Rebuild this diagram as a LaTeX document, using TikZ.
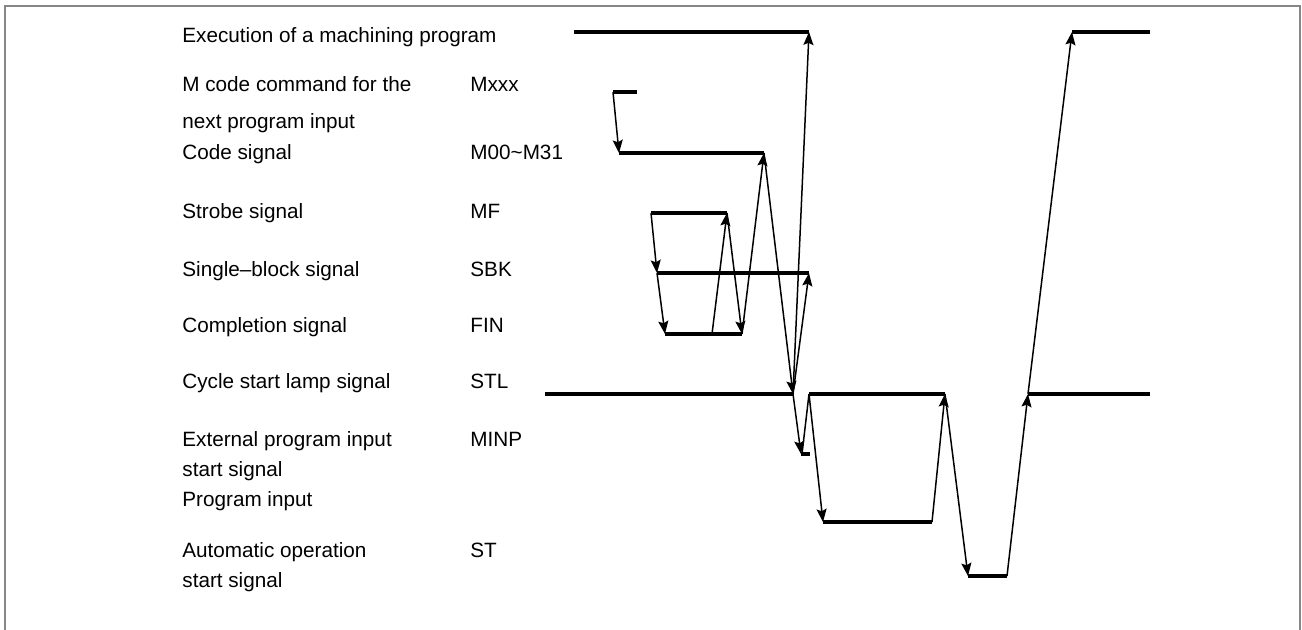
\documentclass[tikz,border=0pt]{standalone}
\usepackage{fontspec}
\setmainfont{Liberation Sans}
\usetikzlibrary{arrows.meta}
\begin{document}
\begin{tikzpicture}[x=0.5pt,y=-0.5pt,
  sig/.style={line width=1.6pt},
  cause/.style={line width=0.75pt,-{Stealth[length=6.5pt,width=5pt,inset=1.1pt]}},
  link/.style={line width=0.75pt},
  lbl/.style={anchor=base west,inner sep=0pt,align=left,font=\fontsize{10.35}{15}\selectfont},
  frameline/.style={line width=1pt,draw=black!47}]
\useasboundingbox (0,0) rectangle (1302,630);
\draw[frameline] (4.5,630) -- (4.5,6) -- (1300,6) -- (1300,630);

% labels (multi-line nodes are placed by the baseline of their last line)
\node[lbl] (Lexec) at (182,42.7) {Execution of a machining program};
\node[lbl] (Lmcode) at (182,128.3) {M code command for the\\[3.3pt]next program input};
\node[lbl] (Lcode) at (182,159.3) {Code signal};
\node[lbl] (Lmf) at (182,218.3) {Strobe signal};
\node[lbl] (Lsbk) at (182,276.7) {Single–block signal};
\node[lbl] (Lfin) at (182,332.7) {Completion signal};
\node[lbl] (Lstl) at (182,389) {Cycle start lamp signal};
\node[lbl] (Lminp) at (182,507) {External program input\\start signal\\Program input};
\node[lbl] (Lst) at (182,587.3) {Automatic operation\\start signal};

\node[lbl] (Smxxx) at (470,91.7) {Mxxx};
\node[lbl] (Scode) at (470,159.3) {M00\textasciitilde M31};
\node[lbl] (Smf) at (470,218.3) {MF};
\node[lbl] (Ssbk) at (470,276.7) {SBK};
\node[lbl] (Sfin) at (470,332.7) {FIN};
\node[lbl] (Sstl) at (470,389) {STL};
\node[lbl] (Sminp) at (470,446.7) {MINP};
\node[lbl] (Sst) at (470,557.3) {ST};

% waveform points
\coordinate (e1) at (574,32);  \coordinate (e2) at (809,32);
\coordinate (e3) at (1072,32); \coordinate (e4) at (1150,32);
\coordinate (m1) at (613,92);  \coordinate (m2) at (637,92);
\coordinate (c1) at (619,153); \coordinate (c2) at (764,153);
\coordinate (f1) at (651,213); \coordinate (f2) at (727,213);
\coordinate (s1) at (657,273); \coordinate (s2) at (809,273);
\coordinate (n1) at (665,334); \coordinate (nx) at (712,334); \coordinate (n2) at (742,334);
\coordinate (l0) at (545,394); \coordinate (l1) at (793,394); \coordinate (l2) at (809,394);
\coordinate (l3) at (945,394); \coordinate (l4) at (1028,394); \coordinate (l5) at (1150,394);
\coordinate (i1) at (801,454); \coordinate (i2) at (810,454); \coordinate (ix) at (802,454);
\coordinate (p1) at (823,522); \coordinate (p2) at (932,522);
\coordinate (t1) at (968,576); \coordinate (t2) at (1007,576);

% signal levels
\draw[sig] (e1) -- (e2);
\draw[sig] (e3) -- (e4);
\draw[sig] (m1) -- (m2);
\draw[sig] (c1) -- (c2);
\draw[sig] (f1) -- (f2);
\draw[sig] (s1) -- (s2);
\draw[sig] (n1) -- (n2);
\draw[sig] (l0) -- (l1);
\draw[sig] (l2) -- (l3);
\draw[sig] (l4) -- (l5);
\draw[sig] (i1) -- (i2);
\draw[sig] (p1) -- (p2);
\draw[sig] (t1) -- (t2);

% cause / effect connectors
\draw[cause] (m1) -- (c1);
\draw[cause] (f1) -- (s1);
\draw[cause] (s1) -- (n1);
\draw[cause] (nx) -- (f2);
\draw[cause] (f2) -- (n2);
\draw[cause] (n2) -- (c2);
\draw[cause] (c2) -- (l1);
\draw[cause] (l1) -- (s2);
\draw[cause] (l1) -- (e2);
\draw[cause] (l1) -- (i1);
\draw[link] (ix) -- (l2);
\draw[cause] (l2) -- (p1);
\draw[cause] (p2) -- (l3);
\draw[cause] (l3) -- (t1);
\draw[cause] (t2) -- (l4);
\draw[cause] (l4) -- (e3);
\end{tikzpicture}
\end{document}
